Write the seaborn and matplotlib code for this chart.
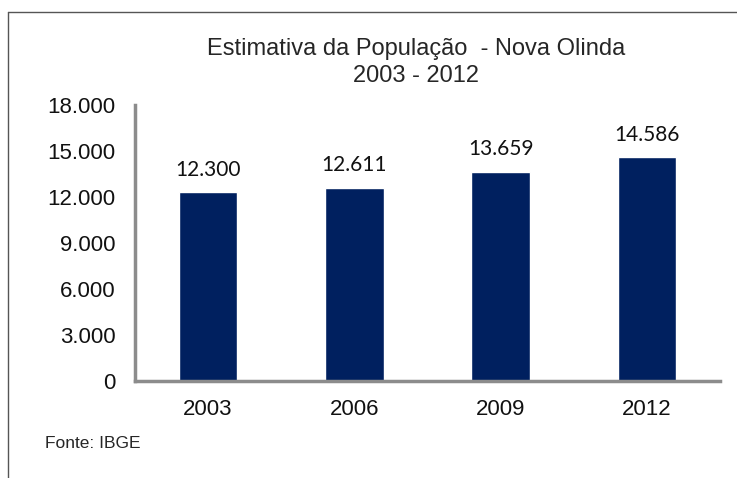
import matplotlib.pyplot as plt
import matplotlib.ticker as mticker
import pandas as pd
import seaborn as sns
from matplotlib.lines import Line2D

anos = ['2003', '2006', '2009', '2012']
populacao = [12300, 12611, 13659, 14586]
y_ticks = [0, 3000, 6000, 9000, 12000, 15000, 18000]

df = pd.DataFrame({'ano': anos, 'pop': populacao})

sns.set_style('white')
plt.rcParams['font.family'] = ['Liberation Sans', 'DejaVu Sans']

fig = plt.figure(figsize=(7.37, 4.78), dpi=100)
ax = fig.add_axes([0.183, 0.203, 0.794, 0.577])

sns.barplot(data=df, x='ano', y='pop', color='#00205f', width=0.4,
            saturation=1, ax=ax)

ax.set_ylim(0, 18000)
ax.set_xlim(-0.5, 3.5)
ax.set_yticks(y_ticks)
ax.yaxis.set_major_formatter(
    mticker.FuncFormatter(lambda v, _: f'{int(v):,}'.replace(',', '.')))
ax.set_xlabel('')
ax.set_ylabel('')
ax.tick_params(axis='both', length=0, labelsize=16, colors='#111111')
ax.tick_params(axis='y', pad=14)
ax.tick_params(axis='x', pad=13)

for s in ['top', 'right']:
    ax.spines[s].set_visible(False)
for s in ['left', 'bottom']:
    ax.spines[s].set_color('#8c8c8c')
    ax.spines[s].set_linewidth(2.5)

for i, v in enumerate(populacao):
    ax.annotate(f'{v:,}'.replace(',', '.'), (i, v), xytext=(0, 9),
                textcoords='offset points', ha='center', va='bottom',
                fontsize=15, family=['Lato', 'DejaVu Sans'], color='#111111')

fig.text(0.565, 0.897, 'Estimativa da População  - Nova Olinda',
         ha='center', va='center', fontsize=17)
fig.text(0.565, 0.840, '2003 - 2012', ha='center', va='center', fontsize=17)
fig.text(0.061, 0.073, 'Fonte: IBGE', ha='left', va='center', fontsize=12.5)

# moldura do gráfico
fig.add_artist(Line2D([0.011, 1.0], [0.975, 0.975], color='#555555', lw=1))
fig.add_artist(Line2D([0.011, 0.011], [0.0, 0.975], color='#555555', lw=1))

fig.savefig('out.png', dpi=100)
